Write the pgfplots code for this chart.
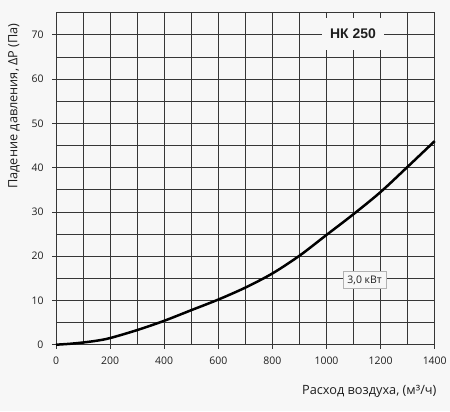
\documentclass[border=0pt]{standalone}
\usepackage{pgfplots}
\pgfplotsset{compat=1.18}
\usepackage{fontspec}
\setmainfont{Open Sans}
\newfontfamily\arialf{Liberation Sans}
\definecolor{bg}{HTML}{F7F7F7}
\definecolor{gridc}{HTML}{363636}
\definecolor{txt}{HTML}{1E1E1E}
\begin{document}
\begin{tikzpicture}[x=1bp,y=1bp]
\fill[bg] (0,0) rectangle (450,411);
\useasboundingbox (0,0) rectangle (450,411);
\begin{axis}[
  at={(56bp,66.3bp)}, anchor=south west,
  scale only axis, width=378.7bp, height=332bp,
  xmin=0, xmax=1400, ymin=0, ymax=75,
  xtick={0,200,...,1400}, minor xtick={100,300,...,1300},
  ytick={0,10,...,70}, minor ytick={5,15,...,65,75},
  grid=both,
  major grid style={gridc, line width=0.8pt},
  minor grid style={gridc, line width=0.8pt},
  axis line style={gridc, line width=0.8pt},
  tick align=outside, major tick length=4bp, minor tick length=0pt,
  tick style={gridc, line width=0.8pt},
  xtick pos=bottom, ytick pos=left,
  /pgf/number format/assume math mode=true,
  /pgf/number format/1000 sep={},
  tick label style={font=\fontsize{10.5}{12}\selectfont, text=txt},
  xticklabel style={yshift=-5bp},
  yticklabel style={xshift=-5bp},
  xlabel={Расход воздуха, (м³/ч)},
  ylabel={Падение давления, ΔP (Па)},
  label style={font=\fontsize{12.8}{14}\selectfont, text=txt},
  xlabel style={at={(rel axis cs:1.014,-0.1416)}, anchor=east},
  ylabel style={at={(rel axis cs:-0.111,0.719)}, anchor=center, rotate=0},
  axis background/.style={fill=bg},
  clip=false,
]
\addplot[black, line width=2.5pt, smooth, tension=0.5] coordinates {
(0,0) (50,0.2) (100,0.5) (150,0.9) (200,1.5) (300,3.3) (400,5.4) (500,7.8)
(600,10.2) (700,12.9) (800,16.1) (900,20.1) (1000,24.8) (1100,29.5)
(1200,34.5) (1300,40.2) (1400,46)
};
\node[fill=bg, minimum width=62.6bp, minimum height=31.7bp, inner sep=0pt,
  font=\arialf\bfseries\fontsize{14}{16}\selectfont, text=txt] at (axis cs:1098,70.2) {НК 250};
\node[fill=bg, draw=black!30, line width=0.6pt, minimum width=42.7bp, minimum height=16.6bp, inner sep=1pt,
  font=\fontsize{10.5}{12}\selectfont, text=txt] at (axis cs:1141,14.6) {3,0 кВт};
\end{axis}
\end{tikzpicture}
\end{document}
